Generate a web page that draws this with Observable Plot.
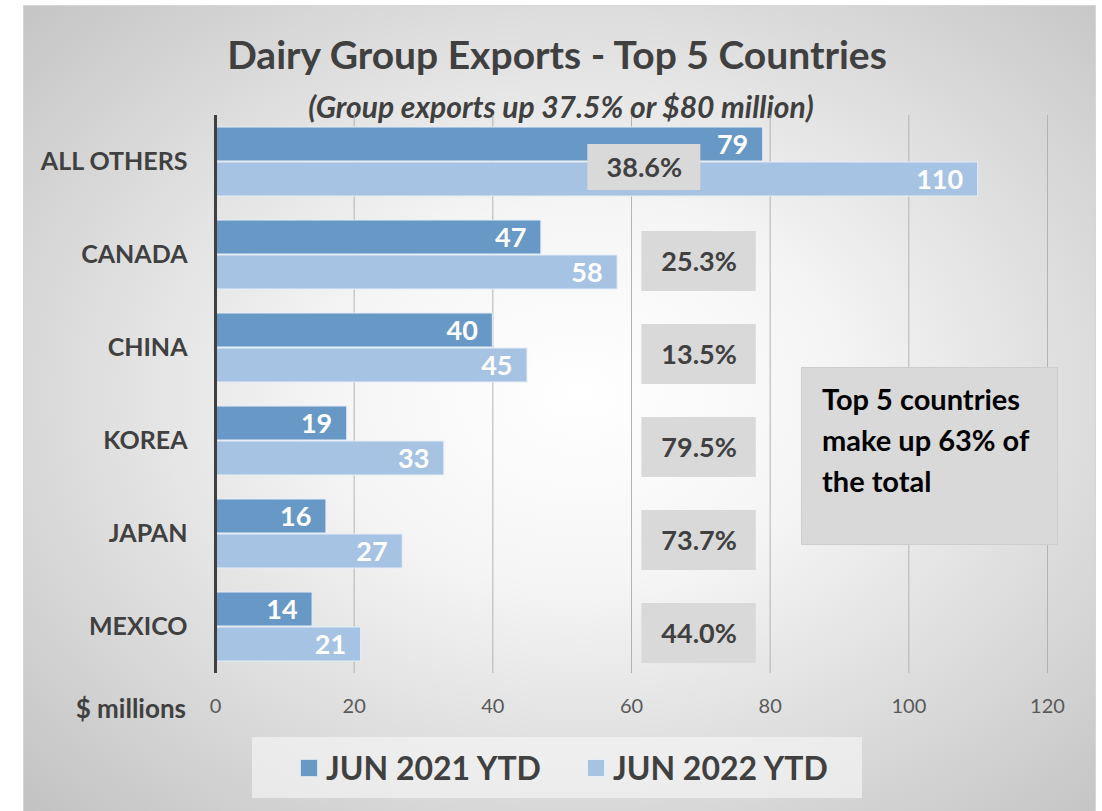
<!DOCTYPE html>
<html>
<head>
<meta charset="utf-8">
<script src="https://cdn.jsdelivr.net/npm/d3@7"></script>
<script src="https://cdn.jsdelivr.net/npm/@observablehq/plot@0.6"></script>
<style>
  html, body { margin: 0; padding: 0; background: #ffffff; }
  #wrap { position: relative; width: 1102px; height: 811px; overflow: hidden; font-family: Lato, "Open Sans", sans-serif; }
  #panel { position: absolute; left: 23px; top: 5px; width: 1073px; height: 810px;
    background: radial-gradient(ellipse farthest-corner at 52% 48%, #ffffff 0%, #f5f5f5 32%, #c2c2c2 100%);
    border: 1px solid #d6d6d6; box-sizing: border-box; }
  #title { position: absolute; left: 557px; top: 32px; transform: translateX(-50%); white-space: nowrap;
    font-size: 39px; font-weight: 700; color: #404040; line-height: 44px; }
  #subtitle { position: absolute; left: 561px; top: 89px; transform: translateX(-50%); white-space: nowrap;
    font-size: 30px; font-weight: 700; font-style: italic; color: #404040; line-height: 34px; }
  #chart { position: absolute; left: 0; top: 0; }
  #unit { position: absolute; right: 916px; top: 693px; font-size: 26px; font-weight: 700; color: #404040; line-height: 30px; white-space: nowrap; }
  #note { position: absolute; left: 801px; top: 367px; width: 257px; height: 178px; box-sizing: border-box;
    background: #d9d9d9; border: 1px solid #cdcdcd; padding: 10px 0 0 20px;
    font-size: 29px; font-weight: 700; color: #000; line-height: 41px; white-space: nowrap; }
  #legend { position: absolute; left: 252px; top: 737px; width: 610px; height: 61px; box-sizing: border-box;
    background: rgba(246,246,246,0.65); display: flex; align-items: center; padding-left: 48px; }
  .item { display: flex; align-items: center; margin-right: 46px; }
  .sw { width: 18px; height: 18px; margin-right: 8px; box-sizing: border-box; border: 1px solid rgba(255,255,255,0.7); }
  .lt { font-size: 32px; font-weight: 700; color: #404040; white-space: nowrap; }
</style>
</head>
<body>
<div id="wrap">
  <div id="panel"></div>
  <div id="title">Dairy Group Exports - Top 5 Countries</div>
  <div id="subtitle">(Group exports up 37.5% or $80 million)</div>
  <div id="chart"></div>
  <div id="unit">$ millions</div>
  <div id="note">Top 5 countries<br>make up 63% of<br>the total</div>
  <div id="legend"></div>
</div>
<script>
// ---- data ----
const countries = ["ALL OTHERS", "CANADA", "CHINA", "KOREA", "JAPAN", "MEXICO"];
const seriesNames = ["JUN 2021 YTD", "JUN 2022 YTD"];
const values2021 = [79, 47, 40, 19, 16, 14];
const values2022 = [110, 58, 45, 33, 27, 21];
const pctLabels = ["38.6%", "25.3%", "13.5%", "79.5%", "73.7%", "44.0%"];
const xTicks = [0, 20, 40, 60, 80, 100, 120];
const gridTicks = [20, 40, 60, 80, 100, 120];

const colors = ["#6899c6", "#a7c3e3"];

const rows = [];
countries.forEach((c, i) => {
  rows.push({country: c, series: seriesNames[0], value: values2021[i]});
  rows.push({country: c, series: seriesNames[1], value: values2022[i]});
});
const pctRows = countries.map((c, i) => ({country: c, label: pctLabels[i]}));
const pctFirst = pctRows.slice(0, 1);
const pctRest = pctRows.slice(1);

const plot = Plot.plot({
  width: 1102,
  height: 811,
  marginLeft: 215,
  marginRight: 55,
  marginTop: 112,
  marginBottom: 136,
  style: {background: "transparent", fontFamily: "Lato, 'Open Sans', sans-serif", overflow: "visible"},
  x: {domain: [0, 120], axis: null},
  y: {domain: seriesNames, paddingInner: 0.04, paddingOuter: 0.32, axis: null},
  fy: {domain: countries, padding: 0, axis: null},
  color: {domain: seriesNames, range: colors},
  marks: [
    Plot.ruleX(gridTicks, {stroke: "#b3b3b3", strokeWidth: 1}),
    Plot.barX(rows, {x: "value", y: "series", fy: "country", fill: "series", stroke: "#e6eef7", strokeWidth: 1}),
    Plot.text(rows, {x: "value", y: "series", fy: "country", text: d => String(d.value),
      textAnchor: "end", dx: -15, dy: 1, fill: "white", fontSize: 27, fontWeight: 700}),
    Plot.rect(pctFirst, {x1: 53.7, x2: 70, fy: "country", fill: "#d9d9d9", insetTop: 29, insetBottom: 18}),
    Plot.text(pctFirst, {x: 61.85, fy: "country", text: "label", dy: 6, fill: "#404040", fontSize: 27, fontWeight: 700}),
    Plot.rect(pctRest, {x1: 61.5, x2: 78, fy: "country", fill: "#d9d9d9", insetTop: 23, insetBottom: 10}),
    Plot.text(pctRest, {x: 69.75, fy: "country", text: "label", dy: 7, fill: "#404040", fontSize: 27, fontWeight: 700}),
    Plot.ruleX([0], {stroke: "#404040", strokeWidth: 3}),
    Plot.axisFy({anchor: "left", tickSize: 0, tickPadding: 28, fontSize: 25, fontWeight: 700, fill: "#404040", label: null}),
    Plot.axisX({ticks: xTicks, tickSize: 0, tickPadding: 25, fontSize: 20, fill: "#595959", label: null})
  ]
});
document.getElementById("chart").appendChild(plot);

// legend
const legend = document.getElementById("legend");
seriesNames.forEach((name, i) => {
  const item = document.createElement("div");
  item.className = "item";
  const sw = document.createElement("div");
  sw.className = "sw";
  sw.style.background = colors[i];
  const lt = document.createElement("div");
  lt.className = "lt";
  lt.textContent = name;
  item.appendChild(sw);
  item.appendChild(lt);
  legend.appendChild(item);
});
</script>
</body>
</html>
